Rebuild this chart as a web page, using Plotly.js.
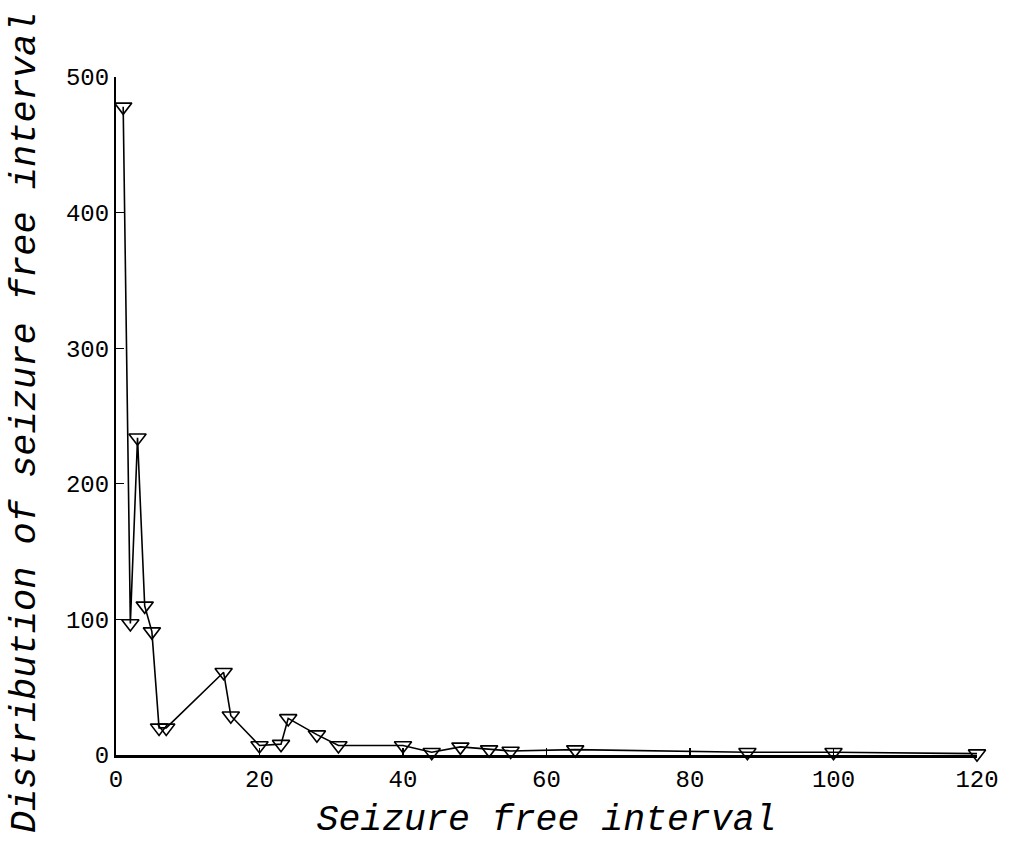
<!DOCTYPE html>
<html>
<head>
<meta charset="utf-8">
<script src="https://cdn.plot.ly/plotly-3.0.1.min.js"></script>
<style>html,body{margin:0;padding:0;background:#fff;}#chart{width:1011px;height:847px;}</style>
</head>
<body>
<div id="chart"></div>
<script>
const intervals = [1, 2, 3, 4, 5, 6, 7, 15, 16, 20, 23, 24, 28, 31, 40, 44, 48, 52, 55, 64, 88, 100, 120];
const counts = [478, 97, 234, 110, 91, 20, 20, 61, 29, 7, 8, 27, 15, 7, 7, 2, 6, 4, 3, 4, 2, 2, 1];
const xTicks = [0, 20, 40, 60, 80, 100, 120];
const yTicks = [0, 100, 200, 300, 400, 500];
const xTitle = "Seizure free interval";
const yTitle = "Distribution of seizure free interval";

const tickFont = {family: "Liberation Mono, DejaVu Sans Mono, monospace", size: 24, color: "#000"};
const xTitleFont = {family: "Liberation Mono, DejaVu Sans Mono, monospace", size: 36.5, color: "#000", style: "italic"};
const yTitleFont = {family: "Liberation Mono, DejaVu Sans Mono, monospace", size: 37, color: "#000", style: "italic"};

const trace = {
  x: intervals, y: counts, type: "scatter", mode: "lines+markers",
  line: {color: "#000", width: 1.6},
  marker: {symbol: "triangle-down-open", size: 15, color: "#000", line: {width: 1.6, color: "#000"}},
  cliponaxis: false, showlegend: false
};

const layout = {
  width: 1011, height: 847,
  margin: {l: 116, r: 34, t: 77, b: 92},
  paper_bgcolor: "#fff", plot_bgcolor: "#fff",
  xaxis: {
    range: [0, 120], tickvals: xTicks, ticktext: xTicks.map(String),
    ticks: "inside", ticklen: 7, tickwidth: 1.2, tickcolor: "#000",
    showline: true, linecolor: "#000", linewidth: 3, showgrid: false, zeroline: false,
    tickfont: tickFont,
    title: {text: xTitle, font: xTitleFont, standoff: 12}
  },
  yaxis: {
    range: [0, 500], tickvals: yTicks, ticktext: yTicks.map(String),
    ticks: "inside", ticklen: 8, tickwidth: 1.2, tickcolor: "#000",
    showline: true, linecolor: "#000", linewidth: 2, showgrid: false, zeroline: false,
    tickfont: tickFont
  },
  annotations: [{
    text: yTitle, font: yTitleFont, textangle: -90, showarrow: false,
    xref: "paper", yref: "paper", x: 0, y: 0.491, xanchor: "center", yanchor: "middle",
    xshift: -91
  }]
};

Plotly.newPlot("chart", [trace], layout, {staticPlot: true, displayModeBar: false});
</script>
</body>
</html>
